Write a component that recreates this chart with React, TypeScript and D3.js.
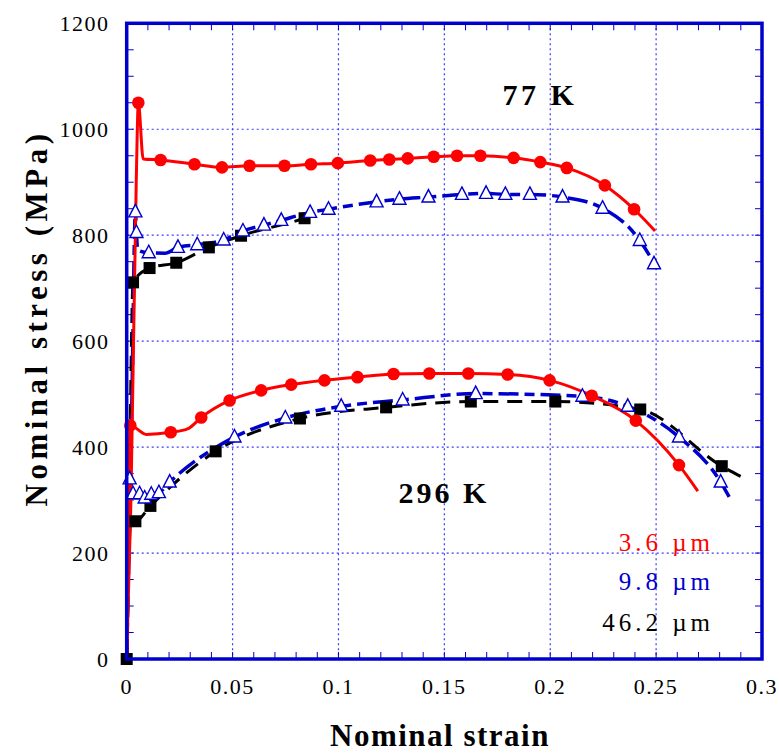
import React from "react";
import * as d3 from "d3";

// [strain, stress (MPa), marker 1/0]
const red77: number[][] = [
  [0, 0, 0], [0.002, 300, 0], [0.0045, 900, 0], [0.0055, 1050, 1], [0.0078, 944, 0],
  [0.016, 942, 1], [0.032, 934, 1], [0.045, 928, 1], [0.058, 931, 1], [0.0745, 931, 1],
  [0.087, 934, 1], [0.0997, 936, 1], [0.115, 941, 1], [0.124, 943, 1], [0.1327, 945, 1],
  [0.145, 948, 1], [0.156, 950, 1], [0.167, 950, 1], [0.1827, 946, 1], [0.1953, 938, 1],
  [0.2078, 927, 1], [0.2258, 894, 1], [0.2396, 849, 1], [0.2495, 808, 0],
];
const blue77: number[][] = [
  [0, 0, 0], [0.0025, 500, 0], [0.0041, 844, 1], [0.0046, 805, 1], [0.0052, 772, 0],
  [0.0104, 767, 1], [0.018, 766, 0], [0.0242, 777, 1], [0.0333, 782, 1], [0.0458, 791, 1],
  [0.0549, 808, 1], [0.0648, 819, 1], [0.073, 828, 1], [0.0866, 843, 1], [0.0953, 849, 1],
  [0.118, 863, 1], [0.1288, 868, 1], [0.1425, 872, 1], [0.1583, 877, 1], [0.1697, 879, 1],
  [0.1788, 877, 1], [0.1904, 877, 1], [0.2058, 872, 1], [0.2247, 851, 1], [0.2423, 790, 1],
  [0.249, 746, 1], [0.2495, 742, 0],
];
const black77: number[][] = [
  [0, 0, 1], [0.0015, 400, 0], [0.003, 711, 1], [0.0108, 738, 1], [0.0234, 748, 1],
  [0.0388, 777, 1], [0.054, 799, 1], [0.084, 832, 1], [0.087, 836, 0],
];
const red296: number[][] = [
  [0, 0, 0], [0.0017, 441, 1], [0.0093, 424, 0], [0.0208, 428, 1], [0.029, 435, 0],
  [0.0352, 456, 1], [0.0486, 488, 1], [0.0635, 507, 1], [0.0777, 518, 1], [0.0934, 526, 1],
  [0.109, 532, 1], [0.126, 538, 1], [0.1429, 539, 1], [0.1613, 539, 1], [0.1799, 537, 1],
  [0.1997, 526, 1], [0.2196, 497, 1], [0.2404, 450, 1], [0.2608, 366, 1], [0.2697, 317, 0],
];
const blue296: number[][] = [
  [0, 0, 0], [0.0014, 340, 1], [0.003, 312, 1], [0.0061, 312, 1], [0.0085, 304, 1],
  [0.0116, 311, 1], [0.0152, 314, 1], [0.0203, 334, 1], [0.0509, 419, 1], [0.0749, 455, 1],
  [0.1013, 477, 1], [0.1303, 489, 1], [0.1648, 501, 1], [0.2152, 496, 1], [0.2366, 477, 1],
  [0.2608, 419, 1], [0.2805, 334, 1], [0.2845, 306, 0],
];
const black296: number[][] = [
  [0, 0, 0], [0.002, 265, 0], [0.0041, 260, 1], [0.0112, 289, 1], [0.042, 392, 1],
  [0.0818, 454, 1], [0.1225, 475, 1], [0.1625, 486, 1], [0.2024, 486, 1], [0.2425, 471, 1],
  [0.281, 364, 1], [0.2907, 343, 0],
];

const xTicks = [0, 0.05, 0.1, 0.15, 0.2, 0.25, 0.3];
const xTickLabels = ["0", "0.05", "0.1", "0.15", "0.2", "0.25", "0.3"];
const yTicks = [0, 200, 400, 600, 800, 1000, 1200];
const legendLabels = ["3.6 \u00b5m", "9.8 \u00b5m", "46.2 \u00b5m"];
const tempLabels = ["77 K", "296 K"];

const RED = "#ff0000";
const BLUE = "#0000cc";
const BLACK = "#000000";
const FONT = "'Liberation Serif', 'Times New Roman', serif";

export default function App() {
  const L = 126.7, R = 762, T = 23.3, B = 659;
  const x = d3.scaleLinear().domain([0, 0.3]).range([L, R]);
  const y = d3.scaleLinear().domain([0, 1200]).range([B, T]);
  const line = d3
    .line<number[]>()
    .x((d) => x(d[0]))
    .y((d) => y(d[1]))
    .curve(d3.curveMonotoneX);

  const xMinor = d3.range(0, 0.3001, 0.01);
  const yMinor = d3.range(0, 1200.1, 50);

  const circles = (data: number[][], key: string) =>
    data.filter((d) => d[2]).map((d, i) => (
      <circle key={key + i} cx={x(d[0])} cy={y(d[1])} r={6.3} fill={RED} />
    ));
  const squares = (data: number[][], key: string) =>
    data.filter((d) => d[2]).map((d, i) => (
      <rect key={key + i} x={x(d[0]) - 6} y={y(d[1]) - 6} width={12} height={12} fill={BLACK} />
    ));
  const tri = (data: number[][], key: string) =>
    data.filter((d) => d[2]).map((d, i) => {
      const cx = x(d[0]), cy = y(d[1]);
      return (
        <path
          key={key + i}
          d={`M${cx},${cy - 7.5}L${cx + 6.5},${cy + 5}L${cx - 6.5},${cy + 5}Z`}
          fill="#ffffff"
          stroke={BLUE}
          strokeWidth={1.4}
        />
      );
    });

  return (
    <svg width={779} height={754} style={{ position: "absolute", left: 0, top: 0, background: "#fff" }}>
      <rect x={0} y={0} width={779} height={754} fill="#fff" />
      {/* grid */}
      {xTicks.slice(1, -1).map((t, i) => (
        <line key={"gx" + i} x1={x(t)} x2={x(t)} y1={T} y2={B} stroke="#3a3aff" strokeWidth={1.2} strokeDasharray="2,3" />
      ))}
      {yTicks.slice(1, -1).map((t, i) => (
        <line key={"gy" + i} x1={L} x2={R} y1={y(t)} y2={y(t)} stroke="#3a3aff" strokeWidth={1.2} strokeDasharray="2,3" />
      ))}
      {/* ticks */}
      {xMinor.map((t, i) => (
        <g key={"tx" + i}>
          <line x1={x(t)} x2={x(t)} y1={B} y2={B - 7} stroke={BLUE} strokeWidth={1} />
          <line x1={x(t)} x2={x(t)} y1={T} y2={T + 7} stroke={BLUE} strokeWidth={1} />
        </g>
      ))}
      {yMinor.map((t, i) => (
        <g key={"ty" + i}>
          <line x1={L} x2={L + 7} y1={y(t)} y2={y(t)} stroke={BLUE} strokeWidth={1} />
          <line x1={R} x2={R - 7} y1={y(t)} y2={y(t)} stroke={BLUE} strokeWidth={1} />
        </g>
      ))}
      {/* lines */}
      <path d={line(black77) || ""} fill="none" stroke={BLACK} strokeWidth={3} strokeDasharray="15,9" />
      <path d={line(black296) || ""} fill="none" stroke={BLACK} strokeWidth={3} strokeDasharray="15,9" />
      <path d={line(blue77) || ""} fill="none" stroke={BLUE} strokeWidth={3.5} strokeDasharray="20,6,10,6" />
      <path d={line(blue296) || ""} fill="none" stroke={BLUE} strokeWidth={3.5} strokeDasharray="20,6,10,6" />
      <path d={line(red77) || ""} fill="none" stroke={RED} strokeWidth={3} />
      <path d={line(red296) || ""} fill="none" stroke={RED} strokeWidth={3} />
      {/* markers */}
      {squares(black77, "s77")}
      {squares(black296, "s296")}
      {tri(blue77, "t77")}
      {tri(blue296, "t296")}
      {circles(red77, "c77")}
      {circles(red296, "c296")}
      {/* frame */}
      <rect x={L} y={T} width={R - L} height={B - T} fill="none" stroke={BLUE} strokeWidth={3.5} />
      {/* tick labels */}
      {xTicks.map((t, i) => (
        <text key={"lx" + i} x={x(t)} y={694} textAnchor="middle" fontFamily={FONT} fontSize={22} letterSpacing={1.5}>
          {xTickLabels[i]}
        </text>
      ))}
      {yTicks.map((t, i) => (
        <text key={"ly" + i} x={109.5} y={y(t)} dy="0.35em" textAnchor="end" fontFamily={FONT} fontSize={22} letterSpacing={1.5}>
          {String(t)}
        </text>
      ))}
      {/* axis titles */}
      <text x={440} y={746} textAnchor="middle" fontFamily={FONT} fontSize={31} fontWeight="bold" letterSpacing={1.5}>
        Nominal strain
      </text>
      <text
        transform={`translate(47,318) rotate(-90)`}
        textAnchor="middle"
        fontFamily={FONT}
        fontSize={31}
        fontWeight="bold"
        letterSpacing={4.5}
      >
        Nominal stress (MPa)
      </text>
      {/* annotations */}
      <text x={540} y={105} textAnchor="middle" fontFamily={FONT} fontSize={30} fontWeight="bold" letterSpacing={3.5}>
        {tempLabels[0]}
      </text>
      <text x={444} y={503} textAnchor="middle" fontFamily={FONT} fontSize={30} fontWeight="bold" letterSpacing={3}>
        {tempLabels[1]}
      </text>
      <text x={714} y={551} textAnchor="end" fontFamily={FONT} fontSize={25} fill={RED} letterSpacing={4}>
        {legendLabels[0]}
      </text>
      <text x={714} y={590} textAnchor="end" fontFamily={FONT} fontSize={25} fill={BLUE} letterSpacing={4}>
        {legendLabels[1]}
      </text>
      <text x={714} y={631} textAnchor="end" fontFamily={FONT} fontSize={25} fill={BLACK} letterSpacing={4}>
        {legendLabels[2]}
      </text>
    </svg>
  );
}
